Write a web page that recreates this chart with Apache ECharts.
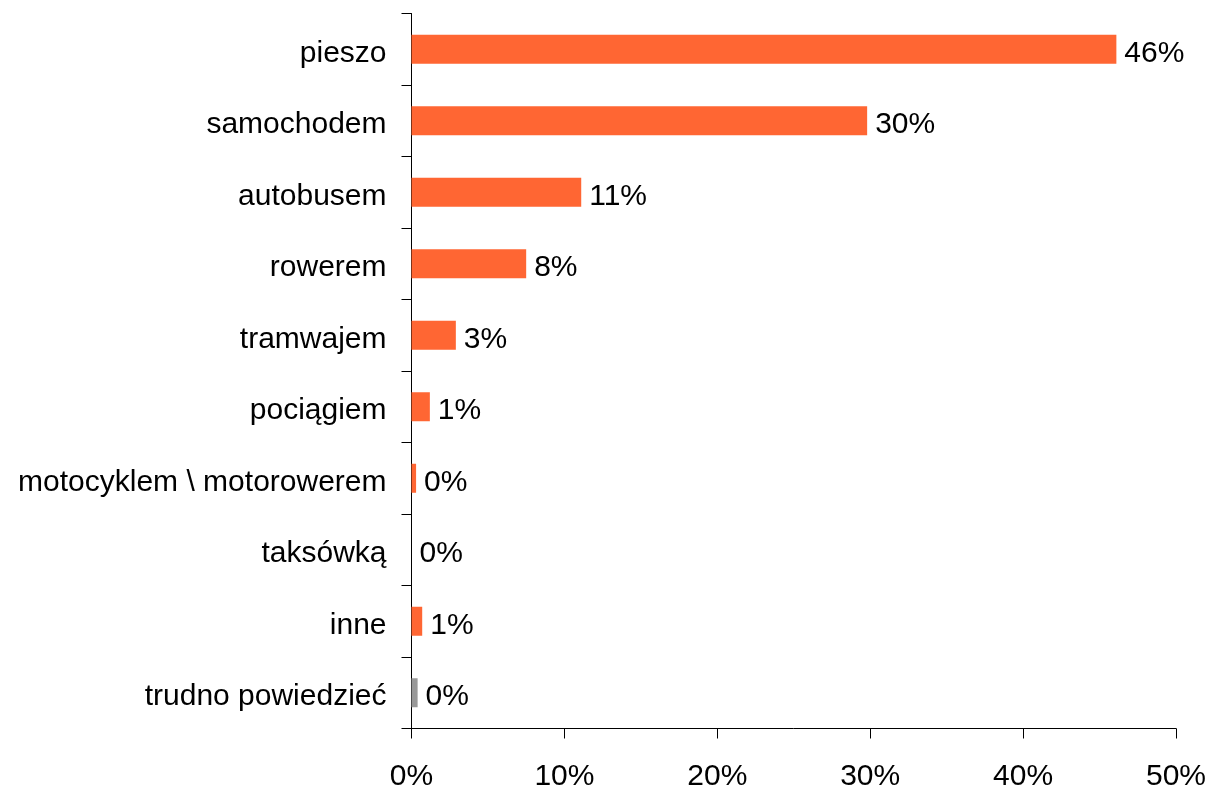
<!DOCTYPE html>
<html>
<head>
<meta charset="utf-8">
<script src="https://cdn.jsdelivr.net/npm/echarts@6/dist/echarts.min.js"></script>
<style>
html,body{margin:0;padding:0;background:#fff;}
#chart{width:1211px;height:789px;}
</style>
</head>
<body>
<div id="chart"></div>
<script>
const categories = ['pieszo','samochodem','autobusem','rowerem','tramwajem','pociągiem','motocyklem \\ motorowerem','taksówką','inne','trudno powiedzieć'];
const values = [46.1, 29.8, 11.1, 7.5, 2.9, 1.2, 0.3, 0.0, 0.7, 0.4];
const xTicks = [0, 10, 20, 30, 40, 50];

const ORANGE = '#FF6633';
const GRAY = '#999999';
const FONT = '"Liberation Sans", Arial, sans-serif';

const chart = echarts.init(document.getElementById('chart'), null, {renderer: 'canvas'});
chart.setOption({
  animation: false,
  backgroundColor: '#fff',
  grid: {left: 411.5, right: 35, top: 13.5, bottom: 60.5, containLabel: false, outerBoundsMode: 'none'},
  xAxis: {
    type: 'value',
    min: xTicks[0],
    max: xTicks[xTicks.length - 1],
    interval: 10,
    axisLine: {show: true, lineStyle: {color: '#000', width: 1}},
    axisTick: {show: true, length: 10, lineStyle: {color: '#000'}},
    splitLine: {show: false},
    axisLabel: {
      color: '#000', fontFamily: FONT, fontSize: 30, margin: 33,
      formatter: v => v + '%'
    }
  },
  yAxis: {
    type: 'category',
    inverse: true,
    data: categories,
    axisLine: {show: true, lineStyle: {color: '#000', width: 1}},
    axisTick: {show: true, length: 10, alignWithLabel: false, lineStyle: {color: '#000'}},
    axisLabel: {
      color: '#000', fontFamily: FONT, fontSize: 30, margin: 25,
      formatter: v => '{a|' + v + '}',
      rich: {a: {fontFamily: FONT, fontSize: 30, color: '#000', padding: [8, 0, 0, 0]}}
    }
  },
  series: [{
    type: 'bar',
    data: values,
    barWidth: 29,
    itemStyle: {
      color: p => (p.dataIndex === categories.length - 1 ? GRAY : ORANGE)
    },
    label: {
      show: true,
      position: 'right',
      distance: 8,
      offset: [0, 4],
      color: '#000',
      fontFamily: FONT,
      fontSize: 30,
      formatter: p => Math.round(p.value) + '%'
    }
  }]
});
</script>
</body>
</html>
